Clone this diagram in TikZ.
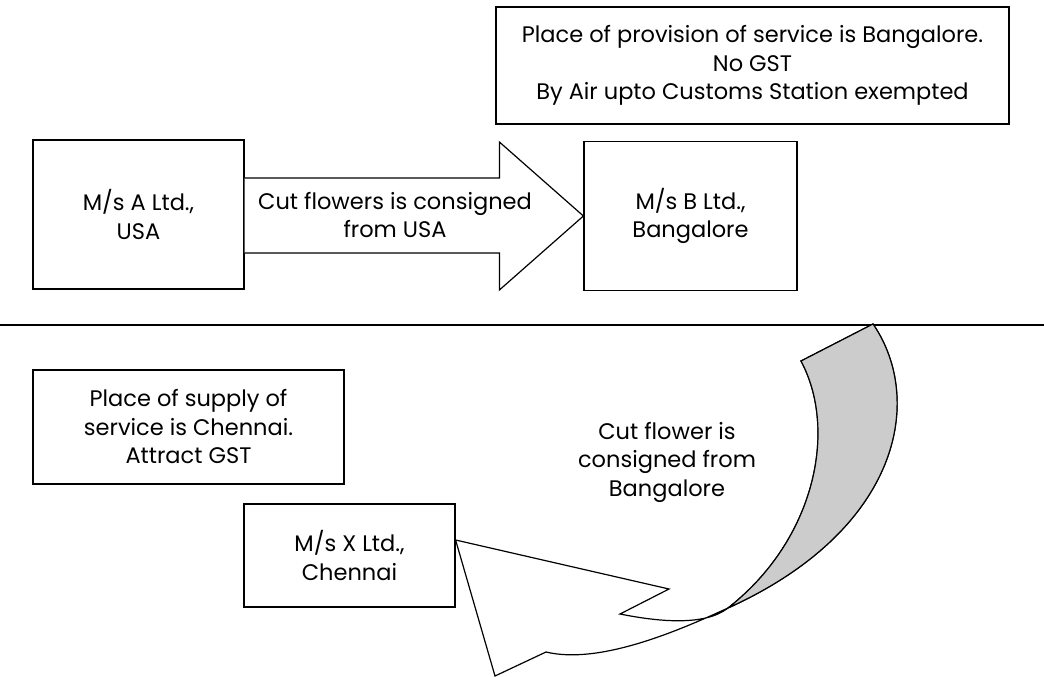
\documentclass[tikz,border=0pt]{standalone}
\usepackage{fontspec}
\setmainfont{Poppins}
\usepackage{tikz}
\usetikzlibrary{positioning}

\begin{document}
\begin{tikzpicture}[x=1pt, y=-1pt,
			box/.style={draw, rectangle, line width=1.2pt, align=center, inner sep=0pt, font=\fontsize{22.5}{28.5}\selectfont},
			txt/.style={align=center, inner sep=0pt, font=\fontsize{22.5}{28.5}\selectfont},
			blockarrow/.style={draw, line width=1.2pt, line join=miter, fill=white},
			twistshade/.style={draw, line width=1.2pt, line join=miter, fill=black!20}
			]
			\useasboundingbox (0,0) rectangle (1044,677);
			
			% Upper half: import by air
			\node[box, minimum width=211pt, minimum height=149pt] (usa)  at (138.5, 214.5) {M/s A Ltd.,\\USA};
			\node[box, minimum width=213pt, minimum height=149pt] (blr)  at (690.5, 216)   {M/s B Ltd.,\\Bangalore};
			\node[box, minimum width=513pt, minimum height=117pt] (nogst) at (752.5, 65.5) {Place of provision of service is Bangalore.\\No GST\\By Air upto Customs Station exempted};
			
			% Block arrow USA -> Bangalore
			\draw[blockarrow] ([yshift=36.5pt]usa.east) -- ([xshift=-84pt, yshift=38pt]blr.west) -- ([xshift=-84pt, yshift=74pt]blr.west)
				-- (blr.west) -- ([xshift=-84pt, yshift=-74pt]blr.west) -- ([xshift=-84pt, yshift=-37pt]blr.west) -- ([yshift=-38.5pt]usa.east);
			\node[txt] (cutusa) at (395, 215) {Cut flowers is consigned\\from USA};
			
			% Separator
			\coordinate (sepL) at (0, 325);
			\coordinate (sepR) at (1044, 325);
			\draw[line width=1.2pt] (sepL) -- (sepR);
			
			% Lower half: supply to Chennai
			\node[box, minimum width=311pt, minimum height=114pt] (gst) at (188.5, 427)   {Place of supply of\\service is Chennai.\\Attract GST};
			\node[box, minimum width=211pt, minimum height=103pt] (che) at (349.5, 555.5) {M/s X Ltd.,\\Chennai};
			
			% Curved arrow Bangalore -> Chennai
			\coordinate (tailO) at (873, 324);
			\coordinate (tailI) at (801, 361);
			\coordinate (twist) at (728, 608);
			\coordinate (baseI) at (620, 614);
			\coordinate (barbI) at (669, 589);
			\coordinate (tip)   at ([yshift=15.5pt]che.east);
			\coordinate (barbO) at (495, 676);
			\coordinate (baseO) at (546, 652);
			\draw[blockarrow] (tailO) -- (tailI) .. controls (838, 430) and (815, 540) .. (twist) .. controls (705, 626) and (660, 622) .. (baseI)
				-- (barbI) -- (tip) -- (barbO) -- (baseO) .. controls (600, 665) and (680, 630) .. (twist) .. controls (900, 530) and (925, 400) .. (tailO) -- cycle;
			\draw[twistshade] (tailO) .. controls (925, 400) and (900, 530) .. (twist) .. controls (815, 540) and (838, 430) .. (tailI) -- cycle;
			\node[txt] (cutblr) at (667, 462) {Cut flower is\\consigned from\\Bangalore};
			
		\end{tikzpicture}
\end{document}
